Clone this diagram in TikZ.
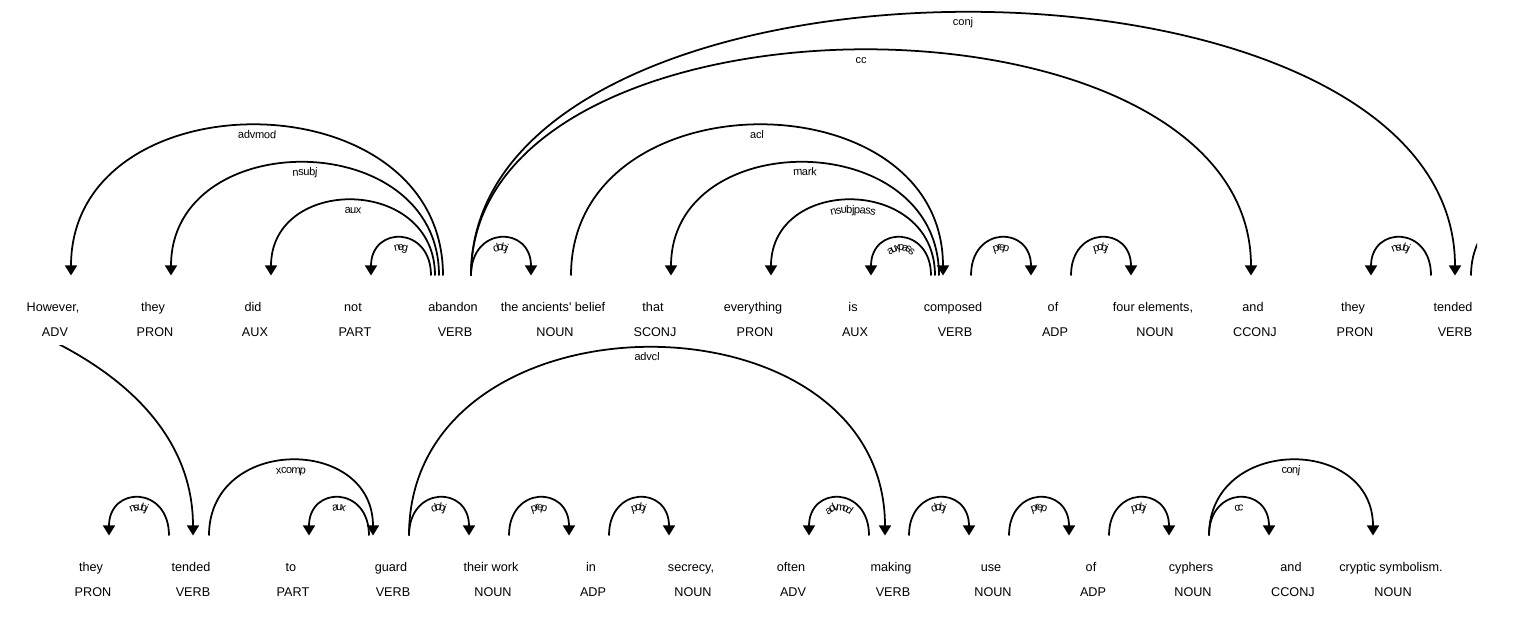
\documentclass[tikz,border=0pt]{standalone}
\usepackage{fontspec}
\setmainfont{Liberation Sans}[Ligatures=TeXOff]
\usetikzlibrary{arrows.meta,calc,decorations.text}
\newcommand\lblfont{\fontsize{6.3}{6.3}\selectfont}
\newcommand\arcpath[3]{($(#1.base)+(18,-36)$) .. controls ($(#1.base)+(18,-36-50*#3)$) and ($(#2.base)+(-26+4*#3,-36-50*#3)$) .. ($(#2.base)+(-26+4*#3,-36)$)}
\newcommand\deparc[5]{%
  \draw[deparc,#5] \arcpath{#1}{#2}{#3};
  \path[decorate,decoration={text along path,text={|\lblfont|#4},text align=center,raise=-7.2pt}] \arcpath{#1}{#2}{#3};
}

\begin{document}
\begin{tikzpicture}[x=0.02cm,y=-0.02cm,
    >={Triangle[width=6.8pt,length=5.7pt]},
    deparc/.style={line width=1pt},
    word/.style={anchor=base,inner sep=0pt,font=\fontsize{7.2}{8}\selectfont},
    postag/.style={word}]
		\useasboundingbox (0,0) rectangle (1518,622);
		\foreach \wtext/\wtag [count=\i from 0] in {{However,}/ADV,they/PRON,did/AUX,not/PART,abandon/VERB,{the ancients' belief}/NOUN,that/SCONJ,everything/PRON,is/AUX,composed/VERB,of/ADP,{four elements,}/NOUN,and/CCONJ,they/PRON,tended/VERB}{
			\node[word, at={(53+100*\i,311.5)}] (w\i) {\wtext};
			\node[postag, at={(55+100*\i,336.5)}] (p\i) {\wtag};
		}
		\foreach \wtext/\wtag [count=\i from 0] in {they/PRON,tended/VERB,to/PART,guard/VERB,their work/NOUN,in/ADP,{secrecy,}/NOUN,often/ADV,making/VERB,use/NOUN,of/ADP,cyphers/NOUN,and/CCONJ,cryptic symbolism./NOUN}{
			\node[word, at={(91+100*\i,571.5)}] (b\i) {\wtext};
			\node[postag, at={(93+100*\i,596.5)}] (q\i) {\wtag};
		}
		\node[word, at={(1653,311.5)}] (wguard) {};
		\node[word, at={(-809,571.5)}] (babandon) {};
		\deparc{w0}{w4}{4}{advmod}{<-}
		\deparc{w1}{w4}{3}{nsubj}{<-}
		\deparc{w2}{w4}{2}{aux}{<-}
		\deparc{w3}{w4}{1}{neg}{<-}
		\deparc{w4}{w5}{1}{dobj}{->}
		\deparc{w4}{w12}{6}{cc}{->}
		\deparc{w4}{w14}{7}{conj}{->}
		\deparc{w5}{w9}{4}{acl}{->}
		\deparc{w6}{w9}{3}{mark}{<-}
		\deparc{w7}{w9}{2}{nsubjpass}{<-}
		\deparc{w8}{w9}{1}{auxpass}{<-}
		\deparc{w9}{w10}{1}{prep}{->}
		\deparc{w10}{w11}{1}{pobj}{->}
		\deparc{w13}{w14}{1}{nsubj}{<-}
		\begin{scope}
			\clip (0,0) rectangle (1477,345);
			\draw[deparc,->] \arcpath{w14}{wguard}{2};
		\end{scope}
		\deparc{b0}{b1}{1}{nsubj}{<-}
		\deparc{b1}{b3}{2}{xcomp}{->}
		\deparc{b2}{b3}{1}{aux}{<-}
		\deparc{b3}{b4}{1}{dobj}{->}
		\deparc{b3}{b8}{5}{advcl}{->}
		\deparc{b4}{b5}{1}{prep}{->}
		\deparc{b5}{b6}{1}{pobj}{->}
		\deparc{b7}{b8}{1}{advmod}{<-}
		\deparc{b8}{b9}{1}{dobj}{->}
		\deparc{b9}{b10}{1}{prep}{->}
		\deparc{b10}{b11}{1}{pobj}{->}
		\deparc{b11}{b12}{1}{cc}{->}
		\deparc{b11}{b13}{2}{conj}{->}
		\begin{scope}
			\clip (0,345) rectangle (1518,622);
			\draw[deparc,->] \arcpath{babandon}{b1}{7};
		\end{scope}
\end{tikzpicture}
\end{document}
